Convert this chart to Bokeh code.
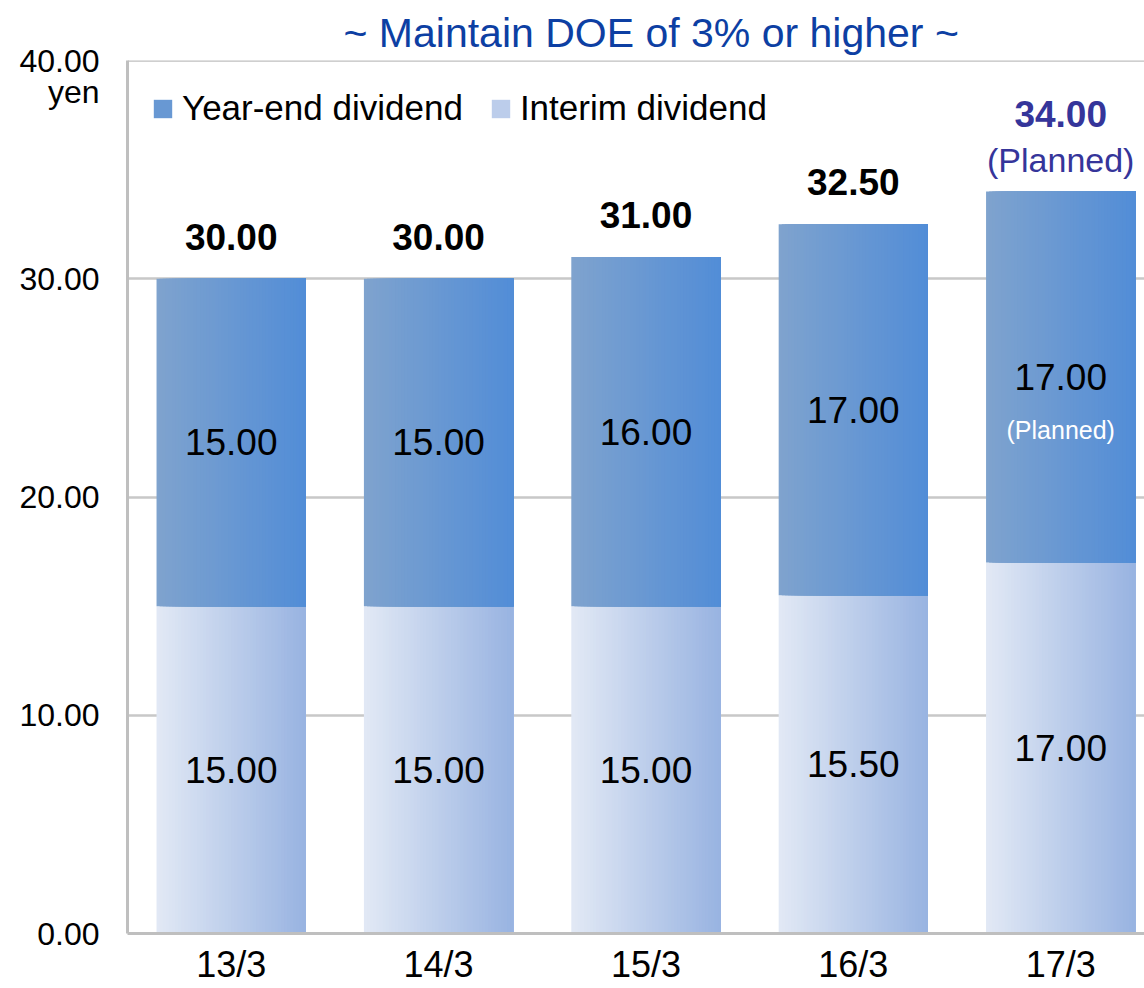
import numpy as np
from bokeh.plotting import figure
from bokeh.models import (ColumnDataSource, Range1d, FixedTicker, NumeralTickFormatter,
                          Legend, LegendItem, Span, Title)
from bokeh.core.properties import value
from bokeh.embed import file_html
from bokeh.resources import INLINE

# ---- data ----
years = ["13/3", "14/3", "15/3", "16/3", "17/3"]
interim = [15.00, 15.00, 15.00, 15.50, 17.00]
year_end = [15.00, 15.00, 16.00, 17.00, 17.00]
planned = [False, False, False, False, True]
y_ticks = [0, 10, 20, 30, 40]
unit_label = "yen"
title_text = "~ Maintain DOE of 3% or higher ~"
series_names = ["Year-end dividend", "Interim dividend"]

totals = [a + b for a, b in zip(interim, year_end)]
xs = list(range(len(years)))

FONT = "Liberation Sans"
GRAY = "#BFBFBF"
UNIT_POS = 38.55  # where the unit text sits under the top tick label

p = figure(width=1144, height=988, output_backend="svg", toolbar_location=None,
           x_range=Range1d(-0.5, 4.404), y_range=Range1d(0, 40),
           min_border_left=127, min_border_right=0, min_border_top=60, min_border_bottom=55)
p.outline_line_color = None
p.background_fill_color = "white"
p.border_fill_color = "white"

# title
p.add_layout(Title(text=title_text, align="left", offset=216, standoff=10,
                   text_font=FONT, text_font_size="41px", text_font_style="normal",
                   text_color="#0D3FA3"), "above")

# grid
p.xgrid.grid_line_color = None
p.ygrid.grid_line_color = "#C8C8C8"
p.ygrid.grid_line_width = 2.5
p.ygrid.ticker = FixedTicker(ticks=y_ticks)

# y axis (with unit text as an extra label)
p.yaxis.ticker = FixedTicker(ticks=y_ticks + [UNIT_POS])
p.yaxis.formatter = NumeralTickFormatter(format="0.00")
p.yaxis.major_label_overrides = {UNIT_POS: unit_label}
p.yaxis.axis_line_color = GRAY
p.yaxis.axis_line_width = 3
p.yaxis.major_tick_line_color = None
p.yaxis.minor_tick_line_color = None
p.yaxis.major_label_text_font = FONT
p.yaxis.major_label_text_font_size = "32px"
p.yaxis.major_label_text_color = "black"
p.yaxis.major_label_standoff = 22

# x axis
p.xaxis.ticker = FixedTicker(ticks=xs)
p.xaxis.major_label_overrides = {i: y for i, y in zip(xs, years)}
p.xaxis.major_label_text_font = FONT
p.xaxis.major_label_text_font_size = "36px"
p.xaxis.major_label_text_color = "black"
p.xaxis.major_label_standoff = 4
p.xaxis.axis_line_color = GRAY
p.xaxis.axis_line_width = 3
p.xaxis.major_tick_line_color = None
p.xaxis.minor_tick_line_color = None

# top border
p.add_layout(Span(location=40, dimension="width", line_color=GRAY, line_width=2.5))

# ---- gradient bars (layered quads, each reaching the bar's right edge) ----
W = 0.72
N = 48

def lerp(c1, c2, t):
    a = np.array([int(c1[i:i + 2], 16) for i in (1, 3, 5)])
    b = np.array([int(c2[i:i + 2], 16) for i in (1, 3, 5)])
    c = (a + (b - a) * t).round().astype(int)
    return "#%02x%02x%02x" % tuple(c)

def stripes(bottoms, tops, c_left, c_right):
    sl, sr, sb, st, sc = [], [], [], [], []
    for i in xs:
        for s in range(N):
            sl.append(i - W / 2 + s / N * W)
            sr.append(i + W / 2)
            sb.append(bottoms[i])
            st.append(tops[i])
            sc.append(lerp(c_left, c_right, (s + 0.5) / N))
    return ColumnDataSource(dict(left=sl, right=sr, bottom=sb, top=st, color=sc))

src_int = stripes([0] * len(xs), interim, "#E2E9F5", "#98B3E1")
src_ye = stripes(interim, totals, "#7FA3CE", "#528DD7")
r_int = p.quad(left="left", right="right", bottom="bottom", top="top", source=src_int,
               fill_color="color", line_color=None)
r_ye = p.quad(left="left", right="right", bottom="bottom", top="top", source=src_ye,
              fill_color="color", line_color=None)

legend = Legend(items=[LegendItem(label=series_names[0], renderers=[r_ye], index=N // 2),
                       LegendItem(label=series_names[1], renderers=[r_int], index=N // 2)],
                location="top_left", orientation="horizontal",
                label_text_font=FONT, label_text_font_size="35px", label_text_color="black",
                glyph_width=23, glyph_height=23, label_standoff=8, spacing=26,
                label_height=48, padding=0, margin=24,
                border_line_color=None, background_fill_alpha=0)
p.add_layout(legend)

# ---- value labels ----
lab = ColumnDataSource(dict(
    x=xs,
    int_mid=[v / 2 for v in interim],
    ye_mid=[a + b / 2 for a, b in zip(interim, year_end)],
    int_txt=["%.2f" % v for v in interim],
    ye_txt=["%.2f" % v for v in year_end],
))
p.text(x="x", y="int_mid", text="int_txt", source=lab, text_align="center",
       text_baseline="middle", text_font=value(FONT), text_font_size="37px", text_color="black")
p.text(x="x", y="ye_mid", text="ye_txt", source=lab, text_align="center",
       text_baseline="middle", text_font=value(FONT), text_font_size="37px", text_color="black")

# "(Planned)" under year-end value
pl_x = [i for i in xs if planned[i]]
pl_y = [interim[i] + year_end[i] / 2 for i in xs if planned[i]]
p.text(x=pl_x, y=pl_y, text=["(Planned)"] * len(pl_x), text_align="center",
       text_baseline="middle", y_offset=53, text_font=value(FONT),
       text_font_size="25px", text_color="white")

# totals
act_x = [i for i in xs if not planned[i]]
act_y = [totals[i] for i in xs if not planned[i]]
p.text(x=act_x, y=act_y, text=["%.2f" % v for v in act_y], text_align="center",
       text_baseline="alphabetic", y_offset=-42, text_font=value(FONT),
       text_font_size="37px", text_font_style="bold", text_color="black")
pt_y = [totals[i] for i in xs if planned[i]]
p.text(x=pl_x, y=pt_y, text=["%.2f" % v for v in pt_y], text_align="center",
       text_baseline="alphabetic", y_offset=-77, text_font=value(FONT),
       text_font_size="37px", text_font_style="bold", text_color="#35359A")
p.text(x=pl_x, y=pt_y, text=["(Planned)"] * len(pl_x), text_align="center",
       text_baseline="alphabetic", y_offset=-31, text_font=value(FONT),
       text_font_size="34px", text_color="#35359A")

open("out.html", "w").write(file_html(p, INLINE))
